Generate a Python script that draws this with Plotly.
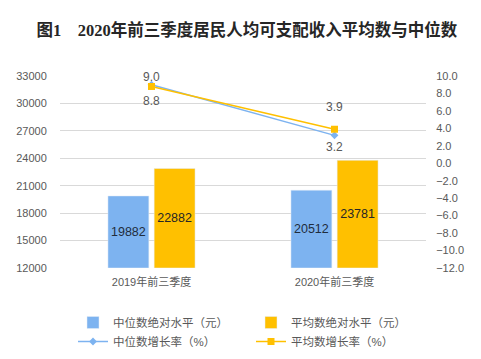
import plotly.graph_objects as go

categories = ["2019年前三季度", "2020年前三季度"]
median_level = [19882, 20512]
mean_level = [22882, 23781]
median_growth = [9.0, 3.2]
mean_growth = [8.8, 3.9]
left_ticks = [12000, 15000, 18000, 21000, 24000, 27000, 30000, 33000]
right_ticks = [-12, -10, -8, -6, -4, -2, 0, 2, 4, 6, 8, 10]

Y_MIN, Y_MAX = 12000, 33000
Y2_MIN, Y2_MAX = -12, 10

BLUE = "#7DB3F0"
ORANGE = "#FFC000"
GRAY = "#595959"
FONT = "Liberation Sans, Noto Sans CJK SC, sans-serif"

fig = go.Figure()
fig.add_trace(go.Bar(
    name="中位数绝对水平（元）", x=categories,
    y=[v - Y_MIN for v in median_level], base=Y_MIN,
    marker_color=BLUE, text=[str(v) for v in median_level],
    textposition="inside", insidetextanchor="middle",
    textfont=dict(size=12.5, color="#1f2d3d", family=FONT),
))
fig.add_trace(go.Bar(
    name="平均数绝对水平（元）", x=categories,
    y=[v - Y_MIN for v in mean_level], base=Y_MIN,
    marker_color=ORANGE, text=[str(v) for v in mean_level],
    textposition="inside", insidetextanchor="middle",
    textfont=dict(size=12.5, color="#262626", family=FONT),
))
fig.add_trace(go.Scatter(
    name="中位数增长率（%）", x=categories, y=median_growth, yaxis="y2",
    mode="lines+markers", line=dict(color=BLUE, width=1.5),
    marker=dict(symbol="diamond", size=6, color=BLUE),
))
fig.add_trace(go.Scatter(
    name="平均数增长率（%）", x=categories, y=mean_growth, yaxis="y2",
    mode="lines+markers", line=dict(color=ORANGE, width=1.5),
    marker=dict(symbol="square", size=7, color=ORANGE),
))

# growth labels
shifts_median = [8, -12]
shifts_mean = [-15, 22]
for cat, v, s in zip(categories, median_growth, shifts_median):
    fig.add_annotation(x=cat, y=v, yref="y2", text=f"{v:.1f}", showarrow=False,
                       yshift=s, font=dict(size=12, color=GRAY, family=FONT))
for cat, v, s in zip(categories, mean_growth, shifts_mean):
    fig.add_annotation(x=cat, y=v, yref="y2", text=f"{v:.1f}", showarrow=False,
                       yshift=s, font=dict(size=12, color=GRAY, family=FONT))

fig.update_layout(
    width=481, height=359,
    margin=dict(l=60, r=55, t=76, b=91, autoexpand=False),
    paper_bgcolor="white", plot_bgcolor="white",
    barmode="group", bargap=0.495, bargroupgap=0.115,
    title=dict(text="图1　2020年前三季度居民人均可支配收入平均数与中位数",
               x=0.513, xanchor="center", y=1 - 30 / 359, yanchor="middle",
               xref="container", yref="container",
               font=dict(size=16.5, color="#262626",
                         family="Liberation Serif, Noto Sans CJK SC, serif", weight="bold")),
    font=dict(family=FONT, color=GRAY),
    xaxis=dict(showgrid=False, showline=False, ticks="outside", ticklen=4,
               tickcolor="rgba(0,0,0,0)", tickfont=dict(size=11, color=GRAY)),
    yaxis=dict(range=[Y_MIN, Y_MAX], tickvals=left_ticks, tickformat="d", showgrid=True,
               gridcolor="#D9D9D9", gridwidth=1, zeroline=False, showline=False,
               tickfont=dict(size=11, color=GRAY), ticks="outside", ticklen=10,
               tickcolor="rgba(0,0,0,0)"),
    yaxis2=dict(range=[Y2_MIN, Y2_MAX], tickvals=right_ticks, tickformat=".1f",
                overlaying="y", side="right", showgrid=False, zeroline=False,
                showline=False, tickfont=dict(size=11, color=GRAY),
                ticks="outside", ticklen=7, tickcolor="rgba(0,0,0,0)"),
    legend=dict(orientation="h", xref="container", yref="container",
                x=73 / 481, xanchor="left", y=1 - 308 / 359, yanchor="top",
                entrywidth=133, entrywidthmode="pixels", itemwidth=30,
                font=dict(size=11.5, color=GRAY), tracegroupgap=0,
                bgcolor="rgba(0,0,0,0)"),
    showlegend=True,
)

fig.write_html("out.html", config={"displayModeBar": False},
               post_script="document.body.style.margin='0';")
